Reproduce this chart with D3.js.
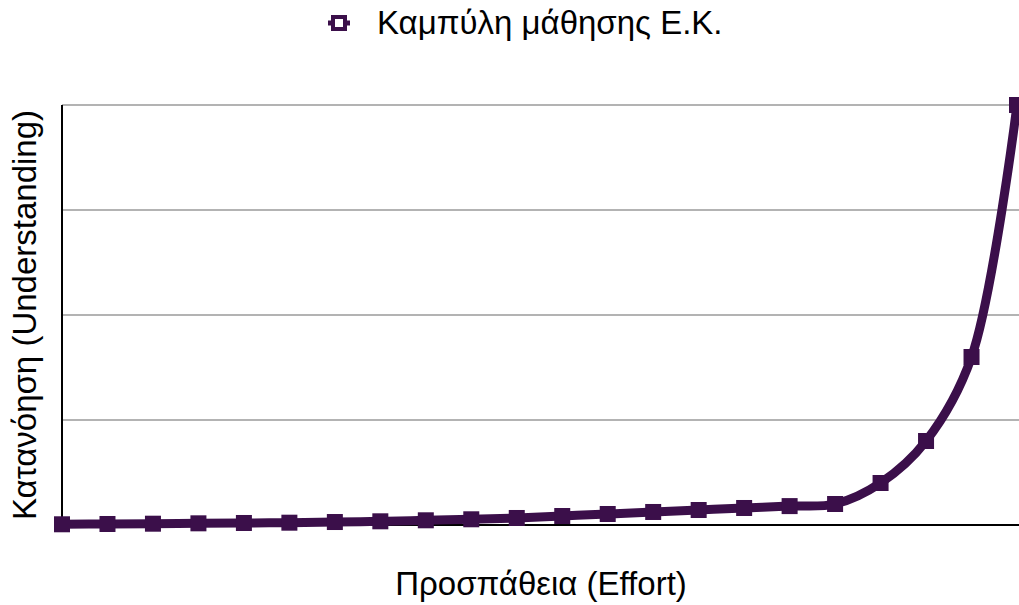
<!DOCTYPE html>
<html lang="el">
<head>
  <meta charset="UTF-8" />
  <title>Καμπύλη μάθησης</title>
  <script src="https://d3js.org/d3.v7.min.js"></script>
  <style>
    body { margin: 0; background: #fff; font-family: "Liberation Sans", Arial, sans-serif; }
    svg { display: block; }
    .grid line { stroke: #b3b3b3; stroke-width: 2px; }
    .title { font-size: 33px; fill: #000; }
  </style>
</head>
<body>
  <svg width="1019" height="605"></svg>
  <script>
    const width = 1019, height = 605;
    const svg = d3.select("svg");

    // δεδομένα
    const seriesName = "Καμπύλη μάθησης Ε.Κ.";
    const steps = d3.range(1, 23);
    const understanding = [0.17, 0.24, 0.31, 0.4, 0.48, 0.55, 0.71, 0.88, 1.12, 1.36, 1.67,
                           2.14, 2.62, 3.1, 3.57, 4.05, 4.5, 5.0, 10, 20, 40, 100];
    const yTicks = [0, 25, 50, 75, 100];
    const xTitle = "Προσπάθεια (Effort)";
    const yTitle = "Κατανόηση (Understanding)";
    const color = "#3b0f4a";

    const m = { left: 62, right: 2, top: 105, bottom: 80 };

    const x = d3.scalePoint()
      .domain(steps)
      .range([m.left, width - m.right]);
    const y = d3.scaleLinear()
      .domain([0, 100])
      .range([height - m.bottom, m.top]);

    // γραμμές πλέγματος
    svg.append("g").attr("class", "grid")
      .selectAll("line")
      .data(yTicks.slice(1))
      .join("line")
      .attr("x1", m.left).attr("x2", width)
      .attr("y1", d => y(d)).attr("y2", d => y(d));

    // άξονες
    svg.append("line")
      .attr("x1", m.left).attr("x2", m.left)
      .attr("y1", y(100)).attr("y2", y(0))
      .attr("stroke", "#000").attr("stroke-width", 2);
    svg.append("line")
      .attr("x1", m.left).attr("x2", width)
      .attr("y1", y(0)).attr("y2", y(0))
      .attr("stroke", "#000").attr("stroke-width", 2);

    const pts = steps.map((s, i) => [x(s), y(understanding[i])]);

    const line = d3.line().curve(d3.curveCatmullRom.alpha(0.5));
    svg.append("path")
      .attr("d", line(pts))
      .attr("fill", "none")
      .attr("stroke", color)
      .attr("stroke-width", 9)
      .attr("stroke-linejoin", "round");

    svg.append("g")
      .selectAll("rect")
      .data(pts)
      .join("rect")
      .attr("x", d => d[0] - 8)
      .attr("y", d => d[1] - 8)
      .attr("width", 16)
      .attr("height", 16)
      .attr("fill", color);

    // υπόμνημα
    svg.append("line")
      .attr("x1", 328).attr("x2", 350)
      .attr("y1", 23).attr("y2", 23)
      .attr("stroke", color).attr("stroke-width", 5);
    svg.append("rect")
      .attr("x", 333).attr("y", 17)
      .attr("width", 12).attr("height", 12)
      .attr("fill", "#fff")
      .attr("stroke", color)
      .attr("stroke-width", 4);
    svg.append("text")
      .attr("class", "title")
      .attr("x", 377).attr("y", 34)
      .text(seriesName);

    svg.append("text")
      .attr("class", "title")
      .attr("x", 541)
      .attr("y", 595)
      .attr("text-anchor", "middle")
      .text(xTitle);

    svg.append("text")
      .attr("class", "title")
      .attr("transform", `translate(36, ${(y(0) + y(100)) / 2}) rotate(-90)`)
      .attr("text-anchor", "middle")
      .text(yTitle);
  </script>
</body>
</html>
